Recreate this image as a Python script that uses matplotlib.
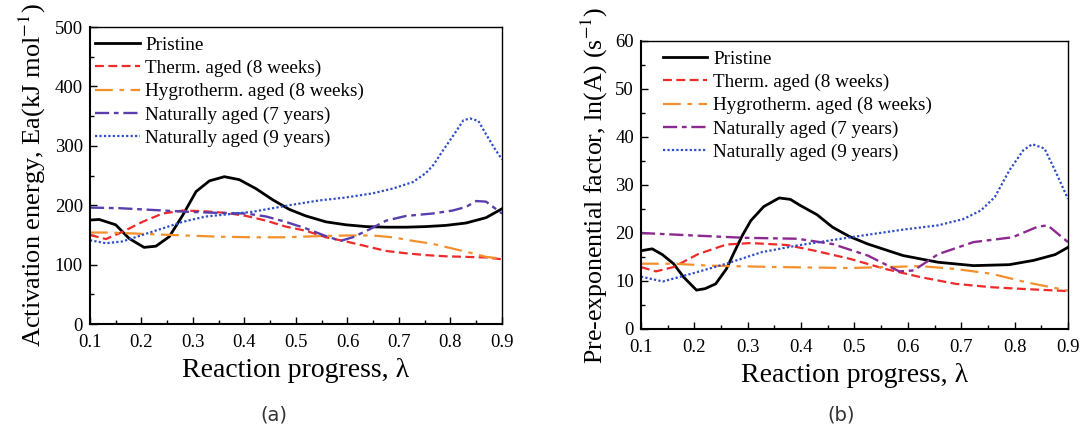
import numpy as np
import matplotlib.pyplot as plt
from matplotlib.ticker import MultipleLocator

plt.rcParams['font.family'] = ['Liberation Serif', 'DejaVu Serif']
plt.rcParams['mathtext.fontset'] = 'stix'

labels = ["Pristine", "Therm. aged (8 weeks)", "Hygrotherm. aged (8 weeks)",
          "Naturally aged (7 years)", "Naturally aged (9 years)"]

# ---- (a) activation energy, kJ/mol ---------------------------------------
ea_pristine_x = [0.100, 0.118, 0.150, 0.176, 0.205, 0.228, 0.254, 0.280, 0.306, 0.332,
                 0.361, 0.390, 0.422, 0.455, 0.487, 0.519, 0.558, 0.597, 0.636, 0.675,
                 0.714, 0.752, 0.791, 0.830, 0.869, 0.900]
ea_pristine_y = [175, 176, 167, 144, 129, 131, 147, 183, 223, 241,
                 248, 243, 228, 209, 193, 182, 172, 167, 164, 163,
                 163, 164, 166, 170, 179, 194]
ea_therm_x = [0.100, 0.131, 0.163, 0.202, 0.241, 0.280, 0.319, 0.364, 0.403, 0.442,
              0.480, 0.519, 0.558, 0.597, 0.636, 0.675, 0.714, 0.752, 0.791, 0.830,
              0.869, 0.900]
ea_therm_y = [150, 143, 155, 172, 186, 191, 190, 187, 182, 174,
              164, 157, 146, 139, 131, 123, 119, 116, 114, 113,
              112, 109]
ea_hygro_x = [0.100, 0.131, 0.170, 0.222, 0.286, 0.351, 0.416, 0.480, 0.545, 0.597,
              0.649, 0.688, 0.727, 0.765, 0.804, 0.843, 0.869, 0.900]
ea_hygro_y = [154, 154, 153, 151, 149, 147, 146, 146, 148, 149,
              149, 146, 140, 135, 127, 119, 113, 110]
ea_nat7_x = [0.100, 0.157, 0.222, 0.286, 0.351, 0.403, 0.442, 0.480, 0.519, 0.558,
             0.587, 0.610, 0.642, 0.675, 0.714, 0.765, 0.804, 0.830, 0.850, 0.869,
             0.900]
ea_nat7_y = [196, 195, 192, 189, 187, 186, 181, 172, 161, 148,
             140, 146, 159, 174, 182, 186, 191, 197, 207, 206,
             186]
ea_nat9_x = [0.100, 0.131, 0.163, 0.202, 0.241, 0.280, 0.325, 0.371, 0.416, 0.455,
             0.494, 0.545, 0.597, 0.649, 0.688, 0.727, 0.752, 0.767, 0.786, 0.806,
             0.825, 0.838, 0.854, 0.870, 0.886, 0.900]
ea_nat9_y = [141, 136, 139, 150, 161, 172, 181, 185, 189, 195,
             201, 208, 213, 220, 228, 239, 254, 268, 293, 318,
             343, 346, 342, 318, 295, 277]

# ---- (b) pre-exponential factor, ln(A) -----------------------------------
la_pristine_x = [0.100, 0.121, 0.140, 0.161, 0.180, 0.204, 0.220, 0.240, 0.260, 0.273,
                 0.290, 0.306, 0.330, 0.359, 0.380, 0.399, 0.430, 0.459, 0.490, 0.525,
                 0.591, 0.657, 0.723, 0.790, 0.836, 0.876, 0.900]
la_pristine_y = [16.3, 16.7, 15.5, 13.6, 10.8, 8.1, 8.4, 9.4, 12.5, 15.6,
                 19.5, 22.6, 25.5, 27.3, 27.0, 25.7, 23.8, 21.2, 19.3, 17.7,
                 15.3, 13.9, 13.2, 13.4, 14.3, 15.5, 17.0]
la_therm_x = [0.10, 0.128, 0.161, 0.207, 0.26, 0.306, 0.373, 0.426, 0.492, 0.558,
              0.624, 0.69, 0.757, 0.823, 0.90]
la_therm_y = [12.9, 12.0, 12.9, 15.6, 17.6, 17.9, 17.5, 16.3, 14.6, 12.5,
              10.8, 9.4, 8.7, 8.3, 7.9]
la_hygro_x = [0.10, 0.161, 0.227, 0.359, 0.492, 0.624, 0.69, 0.757, 0.823, 0.90]
la_hygro_y = [13.6, 13.6, 13.2, 12.9, 12.7, 13.1, 12.5, 11.5, 9.7, 8.0]
la_nat7_x = [0.10, 0.194, 0.293, 0.393, 0.459, 0.525, 0.584, 0.611, 0.657, 0.723,
             0.796, 0.843, 0.862, 0.90]
la_nat7_y = [20.0, 19.5, 19.0, 18.8, 17.7, 15.3, 12.0, 12.2, 15.6, 18.1,
             19.1, 21.3, 21.6, 18.1]
la_nat9_x = [0.10, 0.141, 0.194, 0.26, 0.326, 0.393, 0.492, 0.591, 0.657, 0.704,
             0.737, 0.763, 0.79, 0.816, 0.833, 0.856, 0.876, 0.90]
la_nat9_y = [10.9, 9.9, 11.5, 13.6, 16.0, 17.4, 19.1, 20.7, 21.6, 22.9,
             24.7, 27.5, 33.0, 37.2, 38.5, 37.6, 33.0, 27.1]

styles = [
    dict(color="black", ls="-", lw=2.0),
    dict(color="#ee2a2a", ls=(0, (4, 2)), lw=1.6),
    dict(color="#f3902c", ls=(0, (8, 3, 2, 3)), lw=1.6),
    None,  # purple, set per panel
    dict(color="#2f4ec8", ls=(0, (1, 1)), lw=1.6),
]

fig = plt.figure(figsize=(10.84, 4.30), dpi=100)
ax1 = fig.add_axes([0.0830, 0.2465, 0.3801, 0.6907])
ax2 = fig.add_axes([0.5913, 0.2349, 0.3939, 0.6698])

series_a = [(ea_pristine_x, ea_pristine_y), (ea_therm_x, ea_therm_y),
            (ea_hygro_x, ea_hygro_y), (ea_nat7_x, ea_nat7_y), (ea_nat9_x, ea_nat9_y)]
series_b = [(la_pristine_x, la_pristine_y), (la_therm_x, la_therm_y),
            (la_hygro_x, la_hygro_y), (la_nat7_x, la_nat7_y), (la_nat9_x, la_nat9_y)]

purple = {ax1: "#5a3eae", ax2: "#8b2a90"}
legend_anchor = {ax1: (-0.01, 1.0), ax2: (0.03, 1.0)}

for ax, series in ((ax1, series_a), (ax2, series_b)):
    for i, ((x, y), lab) in enumerate(zip(series, labels)):
        st = styles[i] if styles[i] else dict(color=purple[ax], ls=(0, (6, 2, 2, 2)), lw=1.7)
        ax.plot(x, y, label=lab, solid_joinstyle="round", **st)
    ax.set_xlim(0.1, 0.9)
    ax.xaxis.set_major_locator(MultipleLocator(0.1))
    ax.xaxis.set_minor_locator(MultipleLocator(0.05))
    ax.tick_params(which="both", direction="in", top=False, right=False,
                   labelsize=13.5, width=1.0)
    ax.tick_params(axis="x", which="major", pad=7)
    ax.tick_params(axis="y", which="major", pad=5)
    ax.tick_params(which="major", length=5)
    ax.tick_params(which="minor", length=3)
    ax.set_xlabel("Reaction progress, λ", fontsize=20, labelpad=5)
    for sp in ax.spines.values():
        sp.set_linewidth(1.0)
    ax.spines["left"].set_linewidth(1.5)
    ax.spines["bottom"].set_linewidth(1.5)
    ax.legend(loc="upper left", bbox_to_anchor=legend_anchor[ax], fontsize=13.8,
              frameon=False, handlelength=2.3, labelspacing=0.3, handletextpad=0.3,
              borderaxespad=0.2, borderpad=0.3)

ax1.set_ylim(0, 500)
ax1.yaxis.set_major_locator(MultipleLocator(100))
ax1.yaxis.set_minor_locator(MultipleLocator(50))
ax1.set_ylabel("Activation energy, Ea(kJ mol$^{-1}$)", fontsize=19, labelpad=5)

ax2.set_ylim(0, 60)
ax2.yaxis.set_major_locator(MultipleLocator(10))
ax2.yaxis.set_minor_locator(MultipleLocator(5))
ax2.set_ylabel("Pre-exponential factor, ln(A) (s$^{-1}$)", fontsize=18.6, labelpad=4)

fig.text(0.253, 0.022, "(a)", ha="center", fontsize=14, family="DejaVu Sans", color="#333333")
fig.text(0.776, 0.022, "(b)", ha="center", fontsize=14, family="DejaVu Sans", color="#333333")

fig.savefig("out.png", dpi=100)
